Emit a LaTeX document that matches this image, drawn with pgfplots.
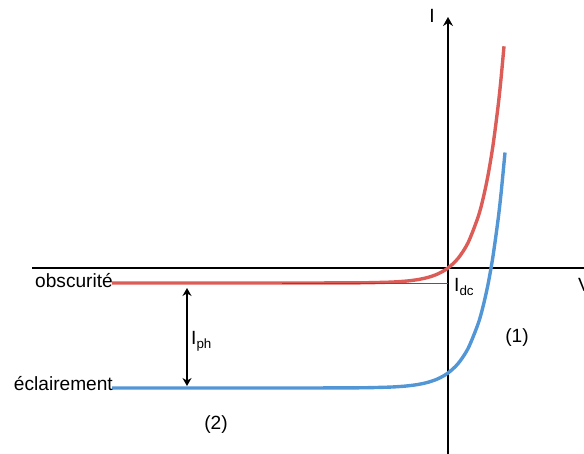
\documentclass[border=0pt]{standalone}
\usepackage{pgfplots}
\pgfplotsset{compat=1.18}
\usepackage{fontspec}
\setmainfont{Liberation Sans}
\usetikzlibrary{arrows.meta}

\definecolor{dark}{RGB}{220,92,88}
\definecolor{light}{RGB}{82,150,214}

\begin{document}
\begin{tikzpicture}
\begin{axis}[
  x=1bp, y=1bp,
  xmin=-448, xmax=136, ymin=-186, ymax=268,
  hide axis,
  clip=true,
  font=\fontsize{19.2}{23}\selectfont,
]
% axes
\draw[black, line width=1.5pt] (axis cs:-416,0) -- (axis cs:136,0);
\draw[black, line width=1.5pt, -{Stealth[length=9pt,width=10pt,inset=3pt]}] (axis cs:0,-186) -- (axis cs:0,251);

% diode in the dark: I = Is (exp(V/Vt) - 1)
\addplot[dark, line width=3.4pt, smooth] coordinates {
  (-336,-15) (-200,-15) (-150,-14.99) (-100,-14.89) (-80,-14.71) (-60,-14.22)
  (-50,-13.72) (-40,-12.91) (-30,-11.58) (-20,-9.40) (-10,-5.84) (0,0)
  (10,9.55) (20,25.17) (30,50.76) (35,69.12) (40,92.6) (45,122.7)
  (50,161.1) (53,189.2) (56,221.7)
};
% illuminated diode: same law shifted by the photocurrent
\addplot[light, line width=3.4pt, smooth] coordinates {
  (-336,-120) (-200,-120) (-150,-119.99) (-100,-119.88) (-80,-119.69) (-60,-119.17)
  (-50,-118.66) (-40,-117.83) (-30,-116.48) (-20,-114.29) (-10,-110.75) (0,-105)
  (10,-95.68) (20,-80.58) (30,-56.1) (35,-38.64) (40,-16.42) (45,11.9)
  (50,47.9) (53,74.1) (57,115.5)
};
% dark-current level
\addplot[black!65, line width=0.8pt] coordinates {(-166,-15) (0,-15)};

% photocurrent arrow
\draw[black, line width=1.5pt, {Stealth[length=8pt,width=9pt]}-{Stealth[length=8pt,width=9pt]}]
  (axis cs:-261,-20) -- (axis cs:-261,-118);

\node[anchor=base east, inner sep=0pt] at (axis cs:-335,-20) {obscurité};
\node[anchor=base east, inner sep=0pt] at (axis cs:-335,-123) {éclairement};
\node[anchor=base west, inner sep=0pt] at (axis cs:-257,-77) {I\textsubscript{ph}};
\node[anchor=base west, inner sep=0pt] at (axis cs:6,-24) {I\textsubscript{dc}};
\node[anchor=base west, inner sep=0pt] at (axis cs:130,-24) {V};
\node[anchor=base, inner sep=0pt] at (axis cs:-16,245) {I};
\node[anchor=base, inner sep=0pt] at (axis cs:69,-75) {(1)};
\node[anchor=base, inner sep=0pt] at (axis cs:-232,-162) {(2)};
\end{axis}
\pgfresetboundingbox
\path[use as bounding box] (current axis.south west) rectangle (current axis.north east);
\end{tikzpicture}
\end{document}
